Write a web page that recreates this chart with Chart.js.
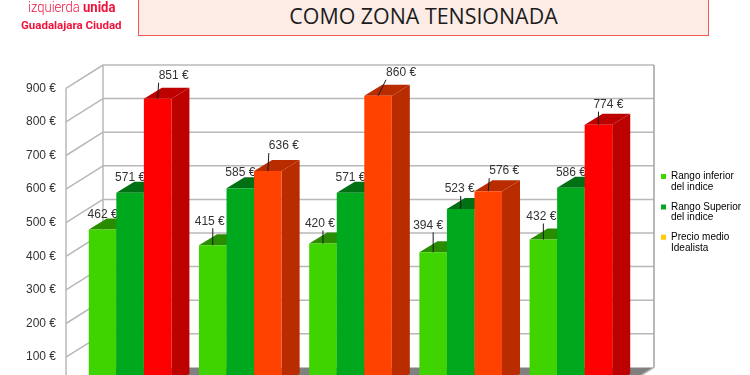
<!DOCTYPE html>
<html>
<head>
<meta charset="utf-8">
<script src="https://cdn.jsdelivr.net/npm/chart.js@4/dist/chart.umd.min.js"></script>
<style>
html, body { margin: 0; padding: 0; background: #fff; overflow: hidden; width: 750px; height: 375px; }
#wrap { position: relative; width: 750px; height: 375px; overflow: hidden; }
canvas { position: absolute; left: 0; top: 0; }
.logo { position: absolute; color: #f0143c; white-space: nowrap; transform-origin: left top; }
#title { position: absolute; left: 138px; top: -10px; width: 571px; height: 46px; box-sizing: border-box;
    border: 1px solid #f25a5a; background: #fdece6; }
#title span { position: absolute; left: 0; right: 0; top: 10px; text-align: center; font: 21.4px "Open Sans", sans-serif; color: #1c1c1c; }
</style>
</head>
<body>
<div id="wrap">
    <canvas id="chart" width="750" height="430"></canvas>
    <div class="logo" style="left:28px;top:-2px;font:300 15px/18px 'Roboto',sans-serif;transform:scaleX(0.87);">izquierda <b style="font-weight:700">unida</b></div>
    <div class="logo" style="left:21px;top:18px;font:700 11.5px/14px 'Roboto',sans-serif;">Guadalajara Ciudad</div>
    <div id="title"><span>COMO ZONA TENSIONADA</span></div>
</div>
<script>
var categories = ["Zona 1", "Zona 2", "Zona 3", "Zona 4", "Zona 5"];
var rangoInferior = [462, 415, 420, 394, 432];
var rangoSuperior = [571, 585, 571, 523, 586];
var precioMedio = [851, 636, 860, 576, 774];
var yTicks = [100, 200, 300, 400, 500, 600, 700, 800, 900];
var legendNames = [["Rango inferior", "del indice"], ["Rango Superior", "del indice"], ["Precio medio", "Idealista"]];
var legendColors = ["#3fd400", "#00a81e", "#ffcc00"];

// where each value label sits, relative to the top of its bar
var inferiorLabelDx = [0, -3, -3, -5, -2];
var inferiorLabelDy = [-15, -24, -20, -27, -23];
var superiorLabelDx = [0, 0, 0, -1, 0];
var superiorLabelDy = [-15, -15, -15, -20, -15];
var precioLabelDx = [16, 16, 23, 16, 10];
var precioLabelDy = [-23, -25, -23, -20, -20];

// the fake 3d box
var depthX = 18, depthY = -11;
var wallFront = { dx: -9, dy: 6 };
var wallBack = { dx: 28, dy: -17.3 };

var chartElement = document.getElementById("chart").getContext("2d");

function face(ctx, pts, color) {
    ctx.fillStyle = color;
    ctx.beginPath();
    ctx.moveTo(pts[0][0], pts[0][1]);
    for (var i = 1; i < pts.length; i++) ctx.lineTo(pts[i][0], pts[i][1]);
    ctx.closePath();
    ctx.fill();
}

function seg(ctx, x1, y1, x2, y2) {
    ctx.beginPath();
    ctx.moveTo(x1, y1);
    ctx.lineTo(x2, y2);
    ctx.stroke();
}

var box3d = {
    id: "box3d",
    afterLayout: function (chart) {
        var lg = chart.legend;
        lg.left = 652;
        lg.top = 162.5;
        lg.right = 750;
        lg.bottom = 262;
    },
    beforeDatasetsDraw: function (chart) {
        var ctx = chart.ctx, a = chart.chartArea, y = chart.scales.y;
        var zero = y.getPixelForValue(0);
        var fl = a.left + wallFront.dx, bl = a.left + wallBack.dx;
        var fr = a.right + wallFront.dx, br = a.right + wallBack.dx;
        ctx.save();
        face(ctx, [[fl, zero + wallFront.dy], [fr, zero + wallFront.dy], [br, zero + wallBack.dy], [bl, zero + wallBack.dy]], "#808080");
        ctx.strokeStyle = "#b8b8b8";
        ctx.lineWidth = 1.5;
        yTicks.forEach(function (v) {
            var p = y.getPixelForValue(v);
            seg(ctx, fl, p + wallFront.dy, bl, p + wallBack.dy);
            seg(ctx, bl, p + wallBack.dy, br, p + wallBack.dy);
        });
        var top = y.getPixelForValue(900);
        seg(ctx, fl, top + wallFront.dy, fl, zero + wallFront.dy);
        seg(ctx, bl, top + wallBack.dy, bl, zero + wallBack.dy);
        seg(ctx, br, zero + wallBack.dy, fr, zero + wallFront.dy);
        ctx.strokeStyle = "#a8a8a8";
        ctx.lineWidth = 1.6;
        seg(ctx, br, top + wallBack.dy, br, zero + wallBack.dy);
        ctx.restore();
    },
    // the library paints the first dataset last, here it has to go first so the next bars cover its labels
    beforeDatasetDraw: function () {
        return false;
    },
    afterDatasetsDraw: function (chart) {
        var ctx = chart.ctx;
        chart.data.datasets.forEach(function (ds, index) {
            var meta = chart.getDatasetMeta(index);
            meta.data.forEach(function (bar, i) {
                var l = bar.x - bar.width / 2, r = bar.x + bar.width / 2;
                var t = bar.y, b = bar.base;
                face(ctx, [[r, t], [r + depthX, t + depthY], [r + depthX, b + depthY], [r, b]], ds.sideColors[i]);
                face(ctx, [[l, t], [l + depthX, t + depthY], [r + depthX, t + depthY], [r, t]], ds.topColors[i]);
            });
            meta.controller.draw();
            ctx.save();
            ctx.font = '12px "Liberation Sans", sans-serif';
            ctx.textAlign = "center";
            ctx.textBaseline = "middle";
            meta.data.forEach(function (bar, i) {
                var lx = bar.x + ds.labelDx[i], ly = bar.y + ds.labelDy[i];
                var text = ds.data[i] + " €";
                var endX = Math.max(lx - ctx.measureText(text).width / 2, bar.x);
                var endY = ly + 7;
                if (bar.y - endY > 10) {
                    ctx.strokeStyle = "#1a1a1a";
                    ctx.lineWidth = 1;
                    seg(ctx, bar.x, bar.y, endX, endY);
                }
                ctx.fillStyle = "#333";
                ctx.fillText(text, lx, ly);
            });
            ctx.restore();
        });
    }
};

var chartObject = new Chart(chartElement, {
    type: "bar",
    data: {
        labels: categories,
        datasets: [{
            label: "Rango inferior del indice",
            data: rangoInferior,
            backgroundColor: "#3fd400",
            sideColors: ["#2a8c00", "#2a8c00", "#2a8c00", "#2a8c00", "#2a8c00"],
            topColors: ["#2a8c00", "#2a8c00", "#2a8c00", "#2a8c00", "#2a8c00"],
            labelDx: inferiorLabelDx,
            labelDy: inferiorLabelDy
        }, {
            label: "Rango Superior del indice",
            data: rangoSuperior,
            backgroundColor: "#00a81e",
            sideColors: ["#007014", "#007014", "#007014", "#007014", "#007014"],
            topColors: ["#007014", "#007014", "#007014", "#007014", "#007014"],
            labelDx: superiorLabelDx,
            labelDy: superiorLabelDy
        }, {
            label: "Precio medio Idealista",
            data: precioMedio,
            backgroundColor: ["#ff0000", "#ff4200", "#ff4200", "#ff4200", "#ff0000"],
            sideColors: ["#bd0000", "#b82c00", "#b82c00", "#b82c00", "#bd0000"],
            topColors: ["#bd0000", "#b82c00", "#b82c00", "#b82c00", "#bd0000"],
            labelDx: precioLabelDx,
            labelDy: precioLabelDy
        }]
    },
    options: {
        responsive: false,
        animation: false,
        layout: { padding: { top: 82.3, bottom: 45.3, left: 0, right: 124 } },
        datasets: { bar: { categoryPercentage: 0.75, barPercentage: 1 } },
        scales: {
            x: { display: false },
            y: {
                min: 0,
                max: 900,
                afterFit: function (scale) { scale.width = 75; },
                afterBuildTicks: function (scale) {
                    scale.ticks = yTicks.map(function (v) { return { value: v }; });
                },
                border: { display: false },
                grid: { display: false, drawTicks: false },
                ticks: {
                    padding: 19,
                    labelOffset: 6,
                    color: "#333",
                    font: { family: "Liberation Sans", size: 12 },
                    callback: function (v) { return v + " €"; }
                }
            }
        },
        plugins: {
            tooltip: { enabled: false },
            legend: {
                position: "chartArea",
                align: "start",
                onClick: null,
                labels: {
                    boxWidth: 5,
                    boxHeight: 5,
                    padding: 9,
                    color: "#333",
                    font: { family: "Liberation Sans", size: 10, lineHeight: 1.07 },
                    generateLabels: function () {
                        return legendNames.map(function (name, i) {
                            return { text: name, fillStyle: legendColors[i], strokeStyle: legendColors[i], lineWidth: 0, datasetIndex: i };
                        });
                    }
                }
            }
        }
    },
    plugins: [box3d]
});
</script>
</body>
</html>
